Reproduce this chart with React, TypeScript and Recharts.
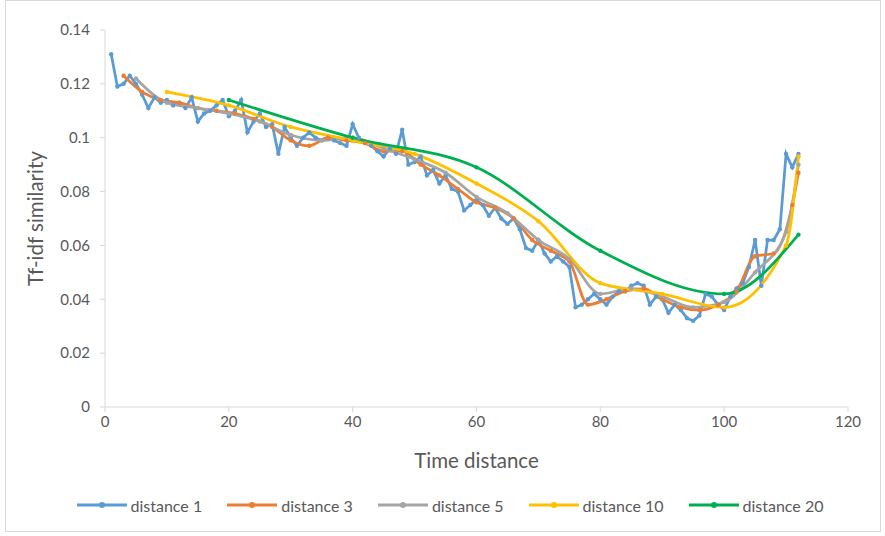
import React from "react";
import { LineChart, Line, XAxis, YAxis, Legend } from "recharts";

const X_TICKS = [0, 20, 40, 60, 80, 100, 120];
const Y_TICKS = [0, 0.02, 0.04, 0.06, 0.08, 0.1, 0.12, 0.14];

// distance 1: one value per time step, x = 1..112
const dist1 = [
  0.131, 0.119, 0.12, 0.123, 0.12, 0.116, 0.111, 0.115, 0.113, 0.114,
  0.112, 0.113, 0.111, 0.115, 0.106, 0.109, 0.11, 0.112, 0.114, 0.108,
  0.11, 0.114, 0.102, 0.106, 0.109, 0.104, 0.105, 0.094, 0.104, 0.1,
  0.097, 0.1, 0.102, 0.1, 0.099, 0.1, 0.099, 0.098, 0.097, 0.105,
  0.1, 0.098, 0.097, 0.095, 0.093, 0.096, 0.094, 0.103, 0.09, 0.091,
  0.093, 0.086, 0.088, 0.083, 0.086, 0.081, 0.08, 0.073, 0.075, 0.077,
  0.075, 0.071, 0.074, 0.07, 0.068, 0.07, 0.066, 0.059, 0.058, 0.062,
  0.057, 0.054, 0.056, 0.054, 0.052, 0.037, 0.038, 0.04, 0.042, 0.04,
  0.038, 0.041, 0.043, 0.043, 0.045, 0.046, 0.045, 0.038, 0.041, 0.04,
  0.035, 0.038, 0.036, 0.033, 0.032, 0.034, 0.042, 0.041, 0.038, 0.036,
  0.041, 0.044, 0.046, 0.052, 0.062, 0.045, 0.062, 0.062, 0.066, 0.094,
  0.089, 0.094,
];

const dist3X = [3, 6, 9, 12, 15, 18, 21, 24, 27, 30, 33, 36, 39, 42, 45, 48, 51, 54, 57, 60, 63, 66, 69, 72, 75, 78, 81, 84, 87, 90, 93, 96, 99, 102, 105, 108, 111, 112];
const dist3 = [
  0.123, 0.117, 0.114, 0.113, 0.111, 0.11, 0.109, 0.107, 0.104, 0.099,
  0.097, 0.1, 0.099, 0.098, 0.095, 0.095, 0.09, 0.086, 0.081, 0.076,
  0.074, 0.07, 0.062, 0.058, 0.054, 0.038, 0.04, 0.043, 0.044, 0.04,
  0.037, 0.036, 0.038, 0.043, 0.056, 0.057, 0.075, 0.087,
];

const dist5X = [5, 10, 15, 20, 25, 30, 35, 40, 45, 50, 55, 60, 65, 70, 75, 80, 85, 90, 95, 100, 105, 110, 112];
const dist5 = [
  0.122, 0.113, 0.111, 0.109, 0.106, 0.101, 0.099, 0.1, 0.096, 0.092,
  0.087, 0.078, 0.072, 0.062, 0.055, 0.042, 0.044, 0.041, 0.037, 0.039,
  0.05, 0.065, 0.09,
];

const dist10X = [10, 20, 30, 40, 50, 60, 70, 80, 90, 100, 110, 112];
const dist10 = [0.117, 0.112, 0.104, 0.099, 0.094, 0.083, 0.069, 0.046, 0.042, 0.037, 0.06, 0.093];

const dist20X = [20, 40, 60, 80, 100, 112];
const dist20 = [0.114, 0.1, 0.089, 0.058, 0.042, 0.064];

const toPoints = (xs: number[], ys: number[]) => ys.map((y, i) => ({ x: xs[i], y }));
const pts1 = toPoints(dist1.map((_, i) => i + 1), dist1);

const SERIES = [
  { name: "distance 1", color: "#5B9BD5", data: pts1, type: "linear" as const },
  { name: "distance 3", color: "#ED7D31", data: toPoints(dist3X, dist3), type: "monotone" as const },
  { name: "distance 5", color: "#A5A5A5", data: toPoints(dist5X, dist5), type: "monotone" as const },
  { name: "distance 10", color: "#FFC000", data: toPoints(dist10X, dist10), type: "monotone" as const },
  { name: "distance 20", color: "#00B050", data: toPoints(dist20X, dist20), type: "monotone" as const },
];

const FONT = "Lato, 'Open Sans', sans-serif";
const TEXT = "#595959";
const AXIS = "#d9d9d9";

function LegendBox() {
  return (
    <div
      style={{
        height: 50,
        paddingTop: 24,
        paddingLeft: 32,
        boxSizing: "border-box",
        display: "flex",
        justifyContent: "center",
        gap: 25,
        fontFamily: FONT,
        fontSize: 16,
        color: TEXT,
      }}
    >
      {SERIES.map((s) => (
        <div key={s.name} style={{ display: "flex", alignItems: "center" }}>
          <svg width={50} height={10} style={{ marginRight: 4 }}>
            <line x1={0} y1={5} x2={50} y2={5} stroke={s.color} strokeWidth={3} />
            <circle cx={25} cy={5} r={3} fill={s.color} />
          </svg>
          <span>{s.name}</span>
        </div>
      ))}
    </div>
  );
}

export default function App() {
  return (
    <div style={{ position: "absolute", left: 0, top: 0, width: 885, height: 536, background: "#fff" }}>
      <div
        style={{
          position: "absolute",
          left: 5,
          top: 0,
          width: 874,
          height: 530,
          border: "1px solid #d9d9d9",
        }}
      />
      <LineChart
        width={885}
        height={536}
        margin={{ top: 30, right: 37, bottom: 18, left: 20 }}
        style={{ position: "absolute", left: 0, top: 0 }}
      >
        <XAxis
          type="number"
          dataKey="x"
          domain={[0, 120]}
          ticks={X_TICKS}
          allowDuplicatedCategory={false}
          height={61}
          tickSize={5}
          tickMargin={4}
          stroke={AXIS}
          tick={{ fill: TEXT, fontSize: 15, fontFamily: FONT }}
          label={{
            value: "Time distance",
            position: "insideBottom",
            offset: 0,
            style: { fill: TEXT, fontSize: 20.5, fontFamily: FONT },
          }}
        />
        <YAxis
          type="number"
          domain={[0, 0.14]}
          ticks={Y_TICKS}
          width={85}
          tickSize={5}
          tickMargin={10}
          stroke={AXIS}
          tickFormatter={(v) => String(v)}
          tick={{ fill: TEXT, fontSize: 15, fontFamily: FONT }}
          label={{
            value: "Tf-idf similarity",
            angle: -90,
            position: "insideLeft",
            offset: 16,
            style: { fill: TEXT, fontSize: 20.5, fontFamily: FONT, textAnchor: "middle" },
          }}
        />
        <Legend verticalAlign="bottom" content={() => <LegendBox />} />
        {SERIES.map((s) => (
          <Line
            key={s.name}
            name={s.name}
            data={s.data}
            dataKey="y"
            type={s.type}
            stroke={s.color}
            strokeWidth={2.75}
            dot={{ r: 2.2, fill: s.color, stroke: s.color, strokeWidth: 0 }}
            activeDot={false}
            isAnimationActive={false}
          />
        ))}
      </LineChart>
    </div>
  );
}
